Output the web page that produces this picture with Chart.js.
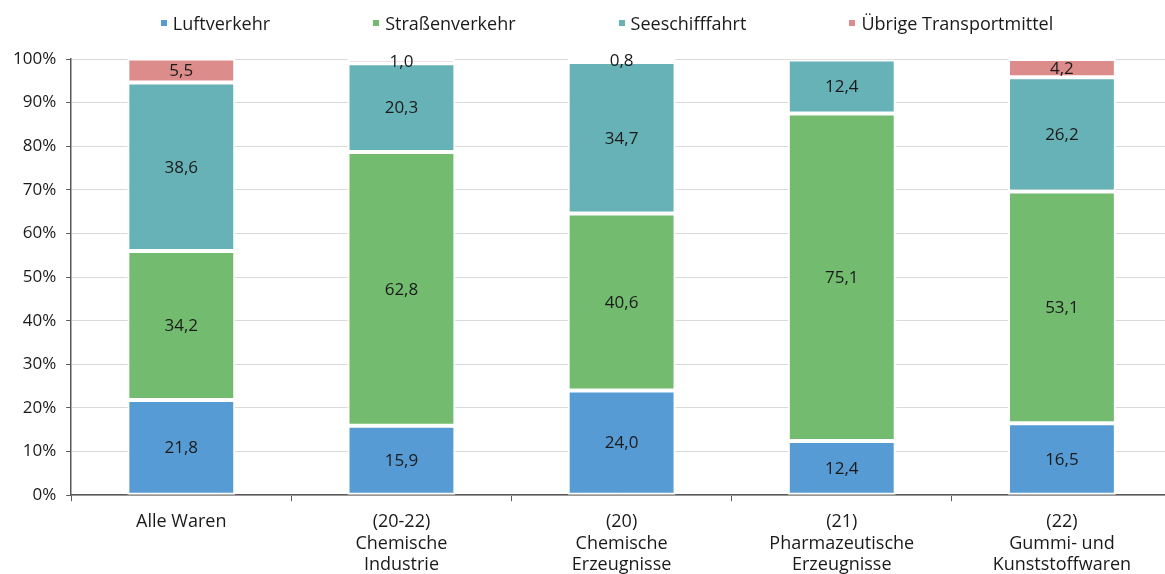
<!DOCTYPE html>
<html lang="de">
<head>
    <meta charset="UTF-8">
    <title>Transportmittel nach Warengruppen</title>
    <script src="https://cdn.jsdelivr.net/npm/chart.js"></script>
    <style>
        html, body { margin: 0; padding: 0; overflow: hidden; background: #fff; }
        #wrap { position: relative; width: 1176px; height: 574px; }
        #legend {
            position: absolute; top: 11px; left: 0; width: 1176px;
            box-sizing: border-box; padding-left: 38px;
            display: flex; justify-content: center; gap: 103px;
            font: 18px/24px 'Open Sans', 'DejaVu Sans', sans-serif; color: #1a1a1a;
        }
        #legend .item { display: flex; align-items: center; white-space: nowrap; }
        #legend .box { width: 6px; height: 6px; margin-right: 6px; }
    </style>
</head>
<body>
    <div id="wrap">
        <div id="legend"></div>
        <canvas id="myChart"></canvas>
    </div>

    <script>
        // Kategorien (mehrzeilige Beschriftung)
        const categories = [
            ['Alle Waren'],
            ['(20-22)', 'Chemische', 'Industrie'],
            ['(20)', 'Chemische', 'Erzeugnisse'],
            ['(21)', 'Pharmazeutische', 'Erzeugnisse'],
            ['(22)', 'Gummi- und', 'Kunststoffwaren']
        ];

        // Anteile in %
        const luftverkehr = [21.8, 15.9, 24.0, 12.4, 16.5];
        const strassenverkehr = [34.2, 62.8, 40.6, 75.1, 53.1];
        const seeschifffahrt = [38.6, 20.3, 34.7, 12.4, 26.2];
        const uebrige = [5.5, 1.0, 0.8, null, 4.2];

        const yTicks = [0, 10, 20, 30, 40, 50, 60, 70, 80, 90, 100];

        const fontFamily = "'Open Sans', 'DejaVu Sans', sans-serif";

        // Werte mittig in die Segmente schreiben
        const valueLabels = {
            id: 'valueLabels',
            afterDatasetsDraw(chart) {
                const ctx = chart.ctx;
                ctx.save();
                ctx.font = '17px ' + fontFamily;
                ctx.fillStyle = '#1a1a1a';
                ctx.textAlign = 'center';
                ctx.textBaseline = 'middle';
                chart.data.datasets.forEach((ds, i) => {
                    const meta = chart.getDatasetMeta(i);
                    meta.data.forEach((bar, j) => {
                        const v = ds.data[j];
                        if (v == null) return;
                        const y = (bar.y + bar.base) / 2;
                        ctx.fillText(v.toFixed(1).replace('.', ','), bar.x, y + 1);
                    });
                });
                ctx.restore();
            }
        };

        const ctx = document.getElementById('myChart').getContext('2d');
        const chart = new Chart(ctx, {
            type: 'bar',
            data: {
                labels: categories,
                datasets: [
                    { label: 'Luftverkehr', data: luftverkehr, backgroundColor: '#579BD5' },
                    { label: 'Straßenverkehr', data: strassenverkehr, backgroundColor: '#73BB6F' },
                    { label: 'Seeschifffahrt', data: seeschifffahrt, backgroundColor: '#67B2B7' },
                    { label: 'Übrige Transportmittel', data: uebrige, backgroundColor: '#DC8D8B' }
                ].map(d => Object.assign(d, {
                    borderColor: '#ffffff',
                    borderWidth: 2,
                    borderSkipped: false,
                    barPercentage: 0.98,
                    categoryPercentage: 0.5
                }))
            },
            options: {
                responsive: true,
                maintainAspectRatio: false,
                animation: false,
                layout: { padding: { top: 59, left: 3, right: 4, bottom: 0 } },
                plugins: {
                    legend: { display: false },
                    tooltip: { enabled: false }
                },
                scales: {
                    x: {
                        stacked: true,
                        afterFit(scale) {
                            // Beschriftung darf bis an den unteren Rand reichen
                            scale.height -= 12;
                        },
                        grid: {
                            display: true,
                            drawOnChartArea: false,
                            drawTicks: true,
                            tickLength: 6,
                            tickColor: '#595959',
                            offset: true
                        },
                        border: { color: '#595959', width: 1.5 },
                        ticks: {
                            color: '#1a1a1a',
                            font: { family: fontFamily, size: 18, lineHeight: 1.2 },
                            maxRotation: 0,
                            padding: 10
                        }
                    },
                    y: {
                        stacked: true,
                        min: 0,
                        max: 100,
                        afterBuildTicks(axis) {
                            axis.ticks = yTicks.map(v => ({ value: v }));
                        },
                        grid: {
                            color: '#d9d9d9',
                            tickLength: 5,
                            tickColor: '#595959'
                        },
                        border: { color: '#595959', width: 1.5 },
                        ticks: {
                            color: '#1a1a1a',
                            font: { family: fontFamily, size: 17 },
                            padding: 10,
                            callback: v => v + '%'
                        }
                    }
                }
            },
            plugins: [valueLabels]
        });

        // Legende als HTML aus den Datensätzen
        const legendEl = document.getElementById('legend');
        chart.data.datasets.forEach(ds => {
            const item = document.createElement('span');
            item.className = 'item';
            const box = document.createElement('span');
            box.className = 'box';
            box.style.background = ds.backgroundColor;
            item.appendChild(box);
            item.appendChild(document.createTextNode(ds.label));
            legendEl.appendChild(item);
        });
    </script>
</body>
</html>
